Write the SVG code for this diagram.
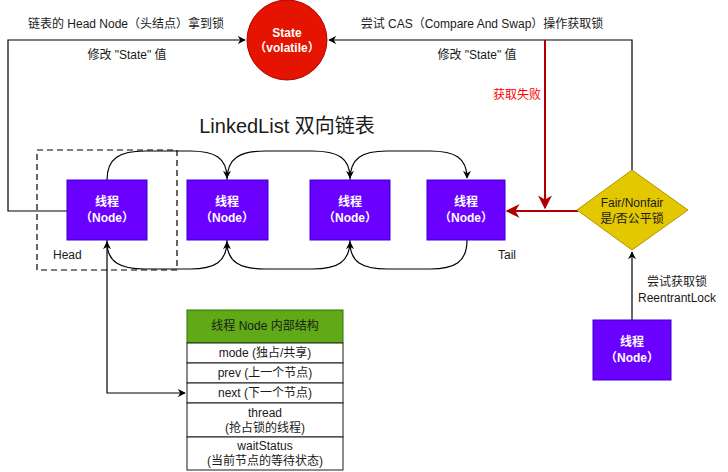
<svg xmlns="http://www.w3.org/2000/svg" width="728" height="472" viewBox="0 0 728 472">
<defs>
<style>
text{font-family:"Liberation Sans","Noto Sans CJK SC",sans-serif;font-size:12px;fill:#1a1a1a;dominant-baseline:central}
.c{text-anchor:middle}
.w{fill:#fff;font-weight:bold}
.node{fill:#6a00ff;stroke:#3700cc;stroke-width:1}
.ln{fill:none;stroke:#000;stroke-width:1.2}
.red{fill:none;stroke:#b20000;stroke-width:2}
.row{fill:#fff;stroke:#1a1a1a;stroke-width:1}
</style>
<marker id="ab" viewBox="0 0 10 10" refX="9" refY="5" markerWidth="8" markerHeight="8" markerUnits="userSpaceOnUse" orient="auto"><path d="M0,0 L10,5 L0,10 L3,5 Z" fill="#000"/></marker>
<marker id="ar" viewBox="0 0 10 10" refX="9" refY="5" markerWidth="14" markerHeight="14" markerUnits="userSpaceOnUse" orient="auto"><path d="M0,0 L10,5 L0,10 L3,5 Z" fill="#b20000"/></marker>
</defs>
<rect width="728" height="472" fill="#fff"/>

<g id="connectors">
<path class="ln" d="M67,211 H8 V40 H245" marker-end="url(#ab)"/>
<path class="ln" d="M632,170 V40 H329" marker-end="url(#ab)"/>
<path class="red" d="M545,40 V208" marker-end="url(#ar)"/>
<path class="red" d="M578,211 H507" marker-end="url(#ar)"/>
<path class="ln" d="M107,180 C107,158 120,151 145,151 H190 C215,151 227,158 227,178" marker-end="url(#ab)"/>
<path class="ln" d="M227,180 C227,158 240,151 265,151 H312 C338,151 350,158 350,178" marker-end="url(#ab)"/>
<path class="ln" d="M350,180 C350,158 362,151 387,151 H430 C455,151 467,158 467,178" marker-end="url(#ab)"/>
<path class="ln" d="M227,240 C227,262 215,269 190,269 H145 C120,269 107,262 107,242" marker-end="url(#ab)"/>
<path class="ln" d="M350,240 C350,262 338,269 312,269 H265 C240,269 227,262 227,242" marker-end="url(#ab)"/>
<path class="ln" d="M467,240 C467,262 455,269 430,269 H387 C362,269 350,262 350,242" marker-end="url(#ab)"/>
<path class="ln" d="M107,240 V393 H185" marker-end="url(#ab)"/>
<path class="ln" d="M632,320 V252" marker-end="url(#ab)"/>
<text x="126" y="24" class="c">链表的 Head Node（头结点）拿到锁</text>
<text x="127" y="55" class="c">修改 "State" 值</text>
<text x="482" y="24" class="c">尝试 CAS（Compare And Swap）操作获取锁</text>
<text x="477" y="55" class="c">修改 "State" 值</text>
<text x="541" y="95" style="fill:#ff0000;text-anchor:end">获取失败</text>
<text x="677" y="282" class="c">尝试获取锁</text>
<text x="677" y="298" class="c">ReentrantLock</text>
</g>

<g id="head-group">
<rect x="37" y="150" width="140" height="120" fill="none" stroke="#000" stroke-width="1.2" stroke-dasharray="6,4"/>
<text x="53" y="255">Head</text>
</g>

<g id="state">
<circle cx="287" cy="40" r="40" fill="#e51400" stroke="#b20000"/>
<text x="287" y="33" class="c w">State</text>
<text x="287" y="48" class="c w">（volatile）</text>
</g>

<text x="287" y="126" class="c" style="font-size:20px">LinkedList 双向链表</text>

<g id="node1">
<rect class="node" x="67" y="180" width="80" height="60"/>
<text x="107" y="202" class="c w">线程</text>
<text x="107" y="218" class="c w">（Node）</text>
</g>
<g id="node2">
<rect class="node" x="187" y="180" width="81" height="60"/>
<text x="227" y="202" class="c w">线程</text>
<text x="227" y="218" class="c w">（Node）</text>
</g>
<g id="node3">
<rect class="node" x="310" y="180" width="80" height="60"/>
<text x="350" y="202" class="c w">线程</text>
<text x="350" y="218" class="c w">（Node）</text>
</g>
<g id="node4">
<rect class="node" x="427" y="180" width="78" height="60"/>
<text x="466" y="202" class="c w">线程</text>
<text x="466" y="218" class="c w">（Node）</text>
<text x="498" y="255">Tail</text>
</g>

<g id="decision">
<polygon points="632,170 688,210 632,250 577,210" fill="#e3c800" stroke="#b09500"/>
<text x="632" y="203" class="c">Fair/Nonfair</text>
<text x="632" y="219" class="c">是/否公平锁</text>
</g>

<g id="node5">
<rect class="node" x="593" y="320" width="78" height="60"/>
<text x="632" y="342" class="c w">线程</text>
<text x="632" y="358" class="c w">（Node）</text>
</g>

<g id="structure">
<rect x="187" y="310" width="156" height="33" fill="#60a917" stroke="#2d7600"/>
<text x="265" y="326" class="c">线程 Node 内部结构</text>
<rect class="row" x="187" y="343" width="156" height="20"/>
<text x="265" y="353" class="c">mode (独占/共享)</text>
<rect class="row" x="187" y="363" width="156" height="20"/>
<text x="265" y="373" class="c">prev (上一个节点)</text>
<rect class="row" x="187" y="383" width="156" height="20"/>
<text x="265" y="393" class="c">next (下一个节点)</text>
<rect class="row" x="187" y="403" width="156" height="34"/>
<text x="265" y="413" class="c">thread</text>
<text x="265" y="428" class="c">(抢占锁的线程)</text>
<rect class="row" x="187" y="437" width="156" height="33"/>
<text x="265" y="446" class="c">waitStatus</text>
<text x="265" y="461" class="c">(当前节点的等待状态)</text>
</g>
</svg>
